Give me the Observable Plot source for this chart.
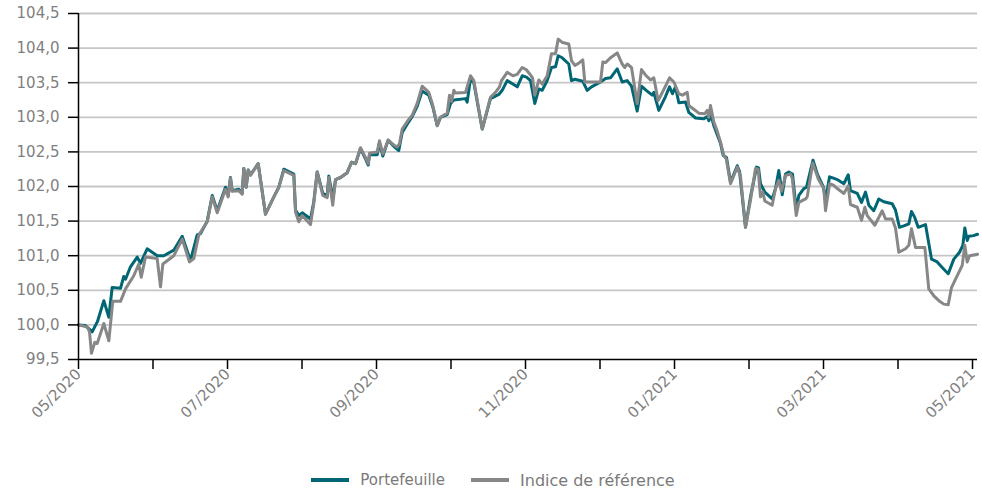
<!DOCTYPE html>
<html>
<head>
<meta charset="utf-8">
<script src="https://cdn.jsdelivr.net/npm/d3@7"></script>
<script src="https://cdn.jsdelivr.net/npm/@observablehq/plot@0.6"></script>
<style>
  html, body { margin: 0; padding: 0; background: #fff; }
  #chart { width: 982px; }
  .legend { display: flex; justify-content: center; align-items: center; height: 24px; font-family: "DejaVu Sans", sans-serif; font-size: 15px; color: #7a7a7a; padding-left: 4px; }
  .legend .item { display: flex; align-items: center; margin: 0 13px; }
  .legend .sw { width: 38px; height: 4px; margin-right: 11px; }
</style>
</head>
<body>
<div id="chart"></div>
<div class="legend">
  <div class="item"><span class="sw" style="background:#006674"></span><span>Portefeuille</span></div>
  <div class="item"><span class="sw" style="background:#878787"></span><span style="font-size:16px">Indice de référence</span></div>
</div>
<script>
// Month labels (x = months since 05/2020)
const monthLabels = ["05/2020","06/2020","07/2020","08/2020","09/2020","10/2020","11/2020","12/2020","01/2021","02/2021","03/2021","04/2021","05/2021"];
const yTicks = [99.5,100,100.5,101,101.5,102,102.5,103,103.5,104,104.5];

// Portefeuille
const portMonths = [0,0.094,0.184,0.255,0.340,0.407,0.452,0.564,0.608,0.631,
0.698,0.788,0.832,0.922,1.056,1.145,1.279,1.392,1.503,1.593,
1.638,1.728,1.795,1.862,1.973,2.009,2.040,2.063,2.152,2.197,
2.219,2.251,2.278,2.309,2.412,2.510,2.622,2.689,2.756,2.890,
2.913,2.957,3.003,3.114,3.158,3.204,3.279,3.338,3.360,3.413,
3.450,3.517,3.607,3.664,3.718,3.785,3.852,3.889,3.906,4.009,
4.040,4.085,4.157,4.232,4.299,4.345,4.412,4.479,4.546,4.613,
4.702,4.756,4.815,4.859,4.949,4.993,5.038,5.195,5.217,5.262,
5.306,5.419,5.530,5.642,5.687,5.754,5.830,5.889,5.956,6.013,
6.067,6.125,6.179,6.224,6.291,6.349,6.403,6.439,6.493,6.581,
6.617,6.662,6.769,6.828,6.886,7.007,7.074,7.141,7.231,7.298,
7.365,7.423,7.499,7.557,7.620,7.701,7.722,7.789,7.879,7.933,
7.973,8.013,8.058,8.148,8.192,8.282,8.393,8.439,8.461,8.483,
8.528,8.618,8.654,8.698,8.752,8.842,8.873,8.953,9.020,9.101,
9.128,9.154,9.212,9.311,9.356,9.400,9.446,9.490,9.534,9.584,
9.634,9.669,9.736,9.772,9.859,9.920,10.000,10.027,10.081,10.134,
10.184,10.273,10.332,10.362,10.453,10.510,10.564,10.608,10.675,10.742,
10.809,10.922,10.966,11.020,11.078,11.145,11.181,11.226,11.271,11.369,
11.450,11.526,11.593,11.674,11.749,11.826,11.870,11.897,11.929,11.951,
12.013,12.067];
const portValues = [100.00,99.99,99.90,100.05,100.35,100.11,100.54,100.53,100.70,100.66,
100.84,100.98,100.89,101.10,101.00,101.00,101.08,101.28,100.93,101.30,
101.32,101.50,101.87,101.65,101.99,101.87,102.13,101.94,101.96,101.90,
102.26,101.99,102.24,102.17,102.33,101.60,101.85,101.99,102.25,102.18,
101.66,101.58,101.62,101.53,101.78,102.21,101.90,101.87,102.15,101.82,
102.10,102.13,102.20,102.35,102.33,102.55,102.40,102.31,102.46,102.46,
102.63,102.44,102.67,102.58,102.52,102.78,102.90,103.01,103.16,103.38,
103.32,103.15,102.88,103.00,103.04,103.20,103.25,103.27,103.22,103.56,
103.50,102.83,103.27,103.33,103.39,103.53,103.48,103.44,103.60,103.58,
103.53,103.20,103.41,103.39,103.53,103.72,103.73,103.89,103.86,103.77,
103.53,103.55,103.52,103.39,103.44,103.51,103.56,103.57,103.70,103.51,
103.53,103.45,103.09,103.45,103.39,103.32,103.36,103.10,103.30,103.44,
103.34,103.44,103.21,103.22,103.07,102.99,102.98,103.01,102.95,103.05,
102.88,102.62,102.45,102.42,102.06,102.30,102.22,101.41,101.85,102.28,
102.27,102.04,101.92,101.82,101.97,102.23,101.88,102.18,102.21,102.18,
101.67,101.87,101.97,101.99,102.38,102.17,101.99,101.80,102.14,102.12,
102.10,102.04,102.17,101.94,101.90,101.77,101.92,101.73,101.65,101.82,
101.78,101.75,101.66,101.41,101.43,101.46,101.64,101.55,101.41,101.45,
100.95,100.91,100.83,100.74,100.95,101.05,101.15,101.40,101.22,101.28,
101.29,101.31];

// Indice de référence
const benchMonths = [0,0.117,0.148,0.174,0.219,0.251,0.340,0.407,0.460,0.564,
0.631,0.742,0.809,0.842,0.899,1.056,1.101,1.132,1.279,1.392,
1.490,1.548,1.615,1.728,1.795,1.862,1.973,2.009,2.040,2.063,
2.152,2.197,2.219,2.251,2.278,2.309,2.412,2.510,2.622,2.689,
2.756,2.890,2.913,2.957,3.003,3.114,3.158,3.204,3.279,3.338,
3.360,3.413,3.450,3.517,3.607,3.664,3.718,3.785,3.852,3.889,
3.906,4.009,4.040,4.085,4.157,4.232,4.278,4.309,4.345,4.412,
4.479,4.546,4.613,4.702,4.756,4.815,4.859,4.949,4.980,5.007,
5.038,5.060,5.195,5.262,5.306,5.419,5.530,5.597,5.651,5.678,
5.754,5.830,5.889,5.956,6.009,6.054,6.094,6.125,6.179,6.224,
6.291,6.349,6.403,6.439,6.497,6.581,6.617,6.662,6.711,6.769,
6.796,6.949,7.007,7.038,7.074,7.141,7.231,7.298,7.333,7.365,
7.423,7.499,7.557,7.620,7.678,7.722,7.781,7.879,7.933,7.991,
8.058,8.108,8.171,8.192,8.255,8.326,8.403,8.439,8.461,8.483,
8.528,8.573,8.618,8.662,8.694,8.752,8.842,8.886,8.953,9.020,
9.087,9.123,9.154,9.185,9.212,9.311,9.356,9.400,9.436,9.490,
9.557,9.580,9.634,9.669,9.759,9.781,9.856,9.929,10.004,10.027,
10.081,10.134,10.184,10.273,10.332,10.362,10.453,10.510,10.555,10.587,
10.689,10.788,10.832,10.922,10.966,11.011,11.101,11.145,11.181,11.235,
11.360,11.413,11.481,11.548,11.615,11.674,11.718,11.763,11.862,11.897,
11.929,11.960,12.067];
const benchValues = [100.00,99.97,99.90,99.59,99.75,99.73,100.02,99.77,100.34,100.34,
100.52,100.71,100.88,100.69,100.98,100.96,100.55,100.88,101.00,101.24,
100.91,100.96,101.30,101.49,101.85,101.62,101.96,101.85,102.12,101.93,
101.94,101.89,102.26,101.99,102.24,102.16,102.33,101.60,101.85,101.99,
102.23,102.16,101.63,101.49,101.58,101.45,101.75,102.21,101.87,101.84,
102.13,101.73,102.10,102.13,102.20,102.35,102.33,102.56,102.42,102.33,
102.48,102.50,102.66,102.47,102.67,102.60,102.57,102.62,102.83,102.94,
103.03,103.20,103.45,103.36,103.17,102.88,103.00,103.06,103.32,103.23,
103.39,103.35,103.36,103.60,103.53,102.83,103.29,103.36,103.44,103.53,
103.65,103.60,103.62,103.72,103.69,103.63,103.57,103.32,103.54,103.48,
103.60,103.92,103.92,104.13,104.08,104.06,103.82,103.75,103.78,103.83,
103.51,103.51,103.51,103.80,103.79,103.86,103.93,103.77,103.72,103.77,
103.72,103.20,103.69,103.60,103.54,103.57,103.24,103.45,103.57,103.51,
103.34,103.32,103.36,103.17,103.12,103.06,103.05,103.10,103.00,103.17,
102.93,102.80,102.64,102.45,102.40,102.04,102.28,102.15,101.41,101.80,
102.26,102.25,101.85,101.92,101.79,101.73,101.97,102.09,101.93,102.16,
102.18,102.12,101.58,101.77,101.82,101.85,102.34,102.11,101.97,101.65,
102.04,102.02,101.97,101.90,102.01,101.74,101.70,101.51,101.70,101.58,
101.44,101.65,101.53,101.53,101.40,101.05,101.10,101.15,101.39,101.12,
101.12,100.52,100.42,100.35,100.30,100.29,100.54,100.64,100.86,101.15,
100.91,101.00,101.02];

const port = portMonths.map((m, i) => ({m, v: portValues[i]}));
const bench = benchMonths.map((m, i) => ({m, v: benchValues[i]}));
const monthTicks = d3.range(monthLabels.length);
const fmtY = d => d.toFixed(1).replace(".", ",");

const chart = Plot.plot({
  width: 982,
  height: 468,
  marginLeft: 78,
  marginRight: 5,
  marginTop: 13,
  marginBottom: 109,
  style: {fontFamily: "DejaVu Sans, sans-serif", fontSize: "15px", color: "black", background: "white"},
  x: {domain: [0, 12.067]},
  y: {domain: [99.5, 104.5]},
  marks: [
    Plot.gridY(yTicks.filter(t => t > 99.5), {stroke: "#c6c6c6", strokeOpacity: 1, strokeWidth: 1.8}),
    Plot.line(port, {x: "m", y: "v", stroke: "#006674", strokeWidth: 3}),
    Plot.line(bench, {x: "m", y: "v", stroke: "#878787", strokeWidth: 3}),
    Plot.ruleX([0], {stroke: "black", strokeWidth: 1.5}),
    Plot.ruleY([99.5], {stroke: "black", strokeWidth: 1.5}),
    Plot.axisY(yTicks, {tickSize: 10, tickPadding: 9, tickFormat: fmtY, stroke: "black", strokeWidth: 1.5, fill: "#7f7f7f", label: null}),
    Plot.axisX(monthTicks, {tickSize: 10, tickPadding: 2, tickRotate: -45, stroke: "black", strokeWidth: 1.5, fill: "#7f7f7f", label: null,
      tickFormat: i => (i % 2 === 0 ? monthLabels[i] : "")})
  ]
});
document.getElementById("chart").appendChild(chart);
</script>
</body>
</html>
